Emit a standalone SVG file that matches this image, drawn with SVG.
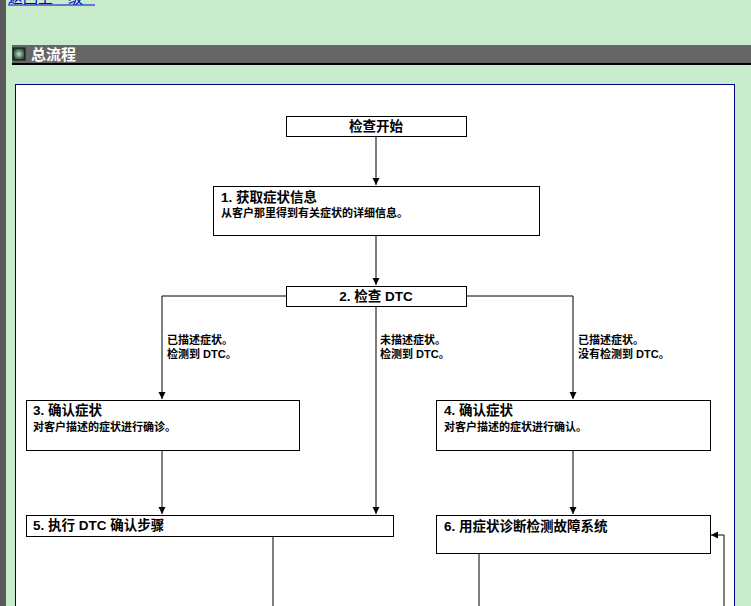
<svg xmlns="http://www.w3.org/2000/svg" width="751" height="606" viewBox="0 0 751 606">
<defs>
<marker id="ah" markerWidth="8" markerHeight="8" refX="7" refY="4" orient="auto" markerUnits="userSpaceOnUse"><path d="M0,0.5 L7,4 L0,7.5 Z" fill="#000"/></marker>
<radialGradient id="ic"><stop offset="0" stop-color="#cfd8cf"/><stop offset="1" stop-color="#1f4a34"/></radialGradient>
</defs>
<style>
text{font-family:"Liberation Sans","Noto Sans CJK SC",sans-serif;fill:#000}
.b{fill:#fff;stroke:#000;stroke-width:1}
.t{font-size:13.5px;font-weight:bold}
.s{font-size:11px;font-weight:bold}
.c{stroke:#000;stroke-width:1;fill:none}
</style>
<rect width="751" height="606" fill="#c8ebcb"/>
<rect x="0" y="0" width="6" height="606" fill="#5a5a5a"/>
<text x="8" y="3" font-size="15" style="fill:#0000cc">返回上一级</text>
<line x1="8" y1="5" x2="95" y2="5" stroke="#0000cc"/>
<rect x="12" y="45" width="739" height="18" fill="#666"/>
<rect x="12" y="63" width="739" height="2" fill="#000"/>
<rect x="13" y="48" width="12" height="12" fill="url(#ic)" stroke="#111"/>
<text x="31" y="60" font-size="15" font-weight="bold" style="fill:#fff">总流程</text>
<rect x="15.5" y="84.5" width="719" height="530" fill="#fff" stroke="#000088"/>
<g id="connectors">
<path class="c" d="M376,137V185" marker-end="url(#ah)"/>
<path class="c" d="M376,235V285" marker-end="url(#ah)"/>
<path class="c" d="M286,296H162V399" marker-end="url(#ah)"/>
<path class="c" d="M466,296H573V399" marker-end="url(#ah)"/>
<path class="c" d="M376,306V514" marker-end="url(#ah)"/>
<path class="c" d="M162,450V514" marker-end="url(#ah)"/>
<path class="c" d="M573,450V514" marker-end="url(#ah)"/>
<path class="c" d="M273,536V606"/>
<path class="c" d="M479,553V606"/>
<path class="c" d="M724,606V535H711" marker-end="url(#ah)"/>
<text class="s" x="167" y="344">已描述症状。</text>
<text class="s" x="167" y="358">检测到 DTC。</text>
<text class="s" x="380" y="344">未描述症状。</text>
<text class="s" x="380" y="358">检测到 DTC。</text>
<text class="s" x="578" y="344">已描述症状。</text>
<text class="s" x="578" y="358">没有检测到 DTC。</text>
</g>
<g id="start"><rect class="b" x="286.5" y="116.5" width="180" height="20"/><text class="t" x="376" y="131" text-anchor="middle">检查开始</text></g>
<g id="n1"><rect class="b" x="213.5" y="186.5" width="326" height="49"/><text class="t" x="221" y="202">1. 获取症状信息</text><text class="s" x="221" y="217">从客户那里得到有关症状的详细信息。</text></g>
<g id="n2"><rect class="b" x="286.5" y="286.5" width="180" height="20"/><text class="t" x="376" y="301" text-anchor="middle">2. 检查 DTC</text></g>
<g id="n3"><rect class="b" x="26.5" y="400.5" width="273" height="50"/><text class="t" x="33" y="415">3. 确认症状</text><text class="s" x="33" y="431">对客户描述的症状进行确诊。</text></g>
<g id="n4"><rect class="b" x="436.5" y="400.5" width="274" height="50"/><text class="t" x="444" y="415">4. 确认症状</text><text class="s" x="444" y="431">对客户描述的症状进行确认。</text></g>
<g id="n5"><rect class="b" x="26.5" y="515.5" width="367" height="21"/><text class="t" x="33" y="530">5. 执行 DTC 确认步骤</text></g>
<g id="n6"><rect class="b" x="436.5" y="515.5" width="274" height="38"/><text class="t" x="444" y="531">6. 用症状诊断检测故障系统</text></g>
</svg>
